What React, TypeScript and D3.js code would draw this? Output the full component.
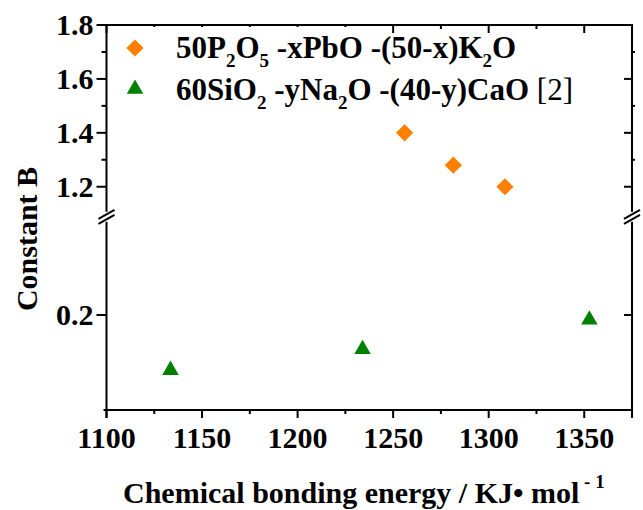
import React from "react";
import * as d3 from "d3";

const energyP = [1256, 1281.5, 1308.5];
const constP = [1.4, 1.28, 1.2];
const energySi = [1133.5, 1234, 1352.7];
const constSi = [0.143, 0.165, 0.196];

const xTicks = [1100, 1150, 1200, 1250, 1300, 1350];
const xMinorTicks = [1125, 1175, 1225, 1275, 1325, 1375];
const upperTicks = [1.2, 1.4, 1.6, 1.8];
const upperMinor = [1.3, 1.5, 1.7];
const lowerTicks = [0.2];

const ORANGE = "#FF8000";
const GREEN = "#008000";
const FONT = "'Liberation Serif', 'Times New Roman', serif";

export default function App() {
  const W = 643, H = 510;
  const left = 106.5, right = 632, top = 25, bottom = 410;
  const breakTop = 213.7, breakBottom = 220;

  const x = d3.scaleLinear().domain([1100, 1375]).range([left, right]);
  const yU = d3.scaleLinear().domain([1.1, 1.8]).range([breakTop, top]);
  const yL = d3.scaleLinear().domain([0.1, 0.3]).range([bottom, breakBottom]);

  const diamond = d3.symbol().type(d3.symbolSquare).size(148)();
  const tri = d3.symbol().type(d3.symbolTriangle).size(118)();

  const sw = 2;
  const fs = 30;
  const lfs = 31;
  const sub = 19;

  const breakMark = (cx: number, cy: number, k: string) => (
    <g key={k}>
      <rect x={cx - 3} y={cy - 5} width={6} height={10} fill="white" />
      <line x1={cx - 8} y1={cy + 2} x2={cx + 8} y2={cy - 7} stroke="black" strokeWidth={sw} />
      <line x1={cx - 8} y1={cy + 7} x2={cx + 8} y2={cy - 2} stroke="black" strokeWidth={sw} />
    </g>
  );

  const midBreak = (breakTop + breakBottom) / 2;

  return (
    <svg width={W} height={H} style={{ position: "absolute", left: 0, top: 0, background: "white" }}
      fontFamily={FONT} fontWeight="bold">
      {/* bottom axis */}
      <line x1={left - 3} x2={right + 1} y1={bottom} y2={bottom} stroke="black" strokeWidth={sw} />
      {xTicks.map((t) => (
        <line key={"xb" + t} x1={x(t)} x2={x(t)} y1={bottom} y2={bottom + 8} stroke="black" strokeWidth={sw} />
      ))}
      {xMinorTicks.map((t) => (
        <line key={"xbm" + t} x1={x(t)} x2={x(t)} y1={bottom} y2={bottom + 4} stroke="black" strokeWidth={sw} />
      ))}
      {xTicks.map((t) => (
        <text key={"xl" + t} x={x(t)} y={448} textAnchor="middle" fontSize={fs}>{t}</text>
      ))}
      {/* top axis */}
      <line x1={left - 3} x2={right + 1} y1={top} y2={top} stroke="black" strokeWidth={sw} />
      {xTicks.map((t) => (
        <line key={"xt" + t} x1={x(t)} x2={x(t)} y1={top} y2={top + 8} stroke="black" strokeWidth={sw} />
      ))}
      {xMinorTicks.map((t) => (
        <line key={"xtm" + t} x1={x(t)} x2={x(t)} y1={top} y2={top + 4} stroke="black" strokeWidth={sw} />
      ))}
      {/* left axis */}
      <line x1={left} x2={left} y1={top} y2={bottom + 8} stroke="black" strokeWidth={sw} />
      {upperTicks.map((t) => (
        <line key={"yl" + t} x1={left - 10} x2={left} y1={yU(t)} y2={yU(t)} stroke="black" strokeWidth={sw} />
      ))}
      {upperMinor.map((t) => (
        <line key={"ylm" + t} x1={left - 5} x2={left} y1={yU(t)} y2={yU(t)} stroke="black" strokeWidth={sw} />
      ))}
      {lowerTicks.map((t) => (
        <line key={"yll" + t} x1={left - 10} x2={left} y1={yL(t)} y2={yL(t)} stroke="black" strokeWidth={sw} />
      ))}
      {upperTicks.map((t) => (
        <text key={"ylt" + t} x={left - 13} y={yU(t)} dy="0.34em" textAnchor="end" fontSize={fs}>{t.toFixed(1)}</text>
      ))}
      {lowerTicks.map((t) => (
        <text key={"yllt" + t} x={left - 13} y={yL(t)} dy="0.34em" textAnchor="end" fontSize={fs}>{t.toFixed(1)}</text>
      ))}
      {/* right axis */}
      <line x1={right} x2={right} y1={top} y2={bottom + 8} stroke="black" strokeWidth={sw} />
      {upperTicks.map((t) => (
        <line key={"yr" + t} x1={right - 8} x2={right} y1={yU(t)} y2={yU(t)} stroke="black" strokeWidth={sw} />
      ))}
      {upperMinor.map((t) => (
        <line key={"yrm" + t} x1={right} x2={right + 3} y1={yU(t)} y2={yU(t)} stroke="black" strokeWidth={sw} />
      ))}
      {lowerTicks.map((t) => (
        <line key={"yrl" + t} x1={right - 8} x2={right} y1={yL(t)} y2={yL(t)} stroke="black" strokeWidth={sw} />
      ))}
      {breakMark(left, midBreak, "bl")}
      {breakMark(right, midBreak, "br")}

      {/* legend background */}
      <rect x={left + 2} y={top + 2} width={278} height={85} fill="white" />
      <path d={diamond} transform={`translate(135,48) rotate(45)`} fill={ORANGE} />
      <path d={tri} transform={`translate(135,89)`} fill={GREEN} />
      <text x={176} y={58} fontSize={lfs}>
        50P<tspan fontSize={sub} dy={9}>2</tspan><tspan dy={-9}>O</tspan><tspan fontSize={sub} dy={9}>5</tspan>
        <tspan dy={-9}> -xPbO -(50-x)K</tspan><tspan fontSize={sub} dy={9}>2</tspan><tspan dy={-9}>O</tspan>
      </text>
      <text x={176} y={100} fontSize={lfs}>
        60SiO<tspan fontSize={sub} dy={9}>2</tspan><tspan dy={-9}> -yNa</tspan><tspan fontSize={sub} dy={9}>2</tspan>
        <tspan dy={-9}>O -(40-y)CaO </tspan><tspan fontWeight="normal">[2]</tspan>
      </text>

      {/* data */}
      {energyP.map((e, i) => (
        <path key={"p" + i} d={diamond} transform={`translate(${x(e)},${yU(constP[i])}) rotate(45)`} fill={ORANGE} />
      ))}
      {energySi.map((e, i) => (
        <path key={"s" + i} d={tri} transform={`translate(${x(e)},${yL(constSi[i]) + 1})`} fill={GREEN} />
      ))}

      {/* axis titles */}
      <text transform={`translate(36.5,239) rotate(-90)`} textAnchor="middle" fontSize={fs}>Constant B</text>
      <text x={123} y={503} fontSize={fs}>
        Chemical bonding energy / KJ• mol<tspan fontSize={sub} dy={-15}> - 1</tspan>
      </text>
    </svg>
  );
}
